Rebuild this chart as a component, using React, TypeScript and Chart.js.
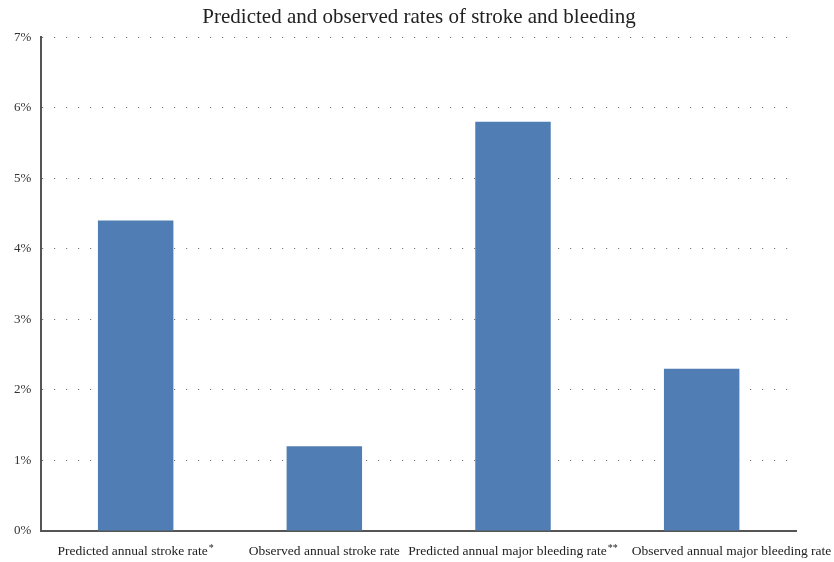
import React, { useEffect, useRef } from "react";
import { Chart, registerables } from "chart.js";

Chart.register(...registerables);

const categories = [
  "Predicted annual stroke rate*",
  "Observed annual stroke rate",
  "Predicted annual major bleeding rate**",
  "Observed annual major bleeding rate",
];
const rates = [4.4, 1.2, 5.8, 2.3];
const yTicks = [0, 1, 2, 3, 4, 5, 6, 7];
const titleText = "Predicted and observed rates of stroke and bleeding";

const FONT = "'Liberation Serif', 'DejaVu Serif', serif";

const xLabelPlugin = {
  id: "xLabels",
  afterDraw(chart: any) {
    const xs = chart.scales.x;
    const ctx = chart.ctx;
    ctx.save();
    ctx.fillStyle = "#222";
    ctx.textBaseline = "alphabetic";
    ctx.textAlign = "left";
    const baseY = xs.top + 24;
    let prevRight = -Infinity;
    categories.forEach((label, i) => {
      const m = label.match(/^(.*?)(\*+)$/);
      const base = m ? m[1] : label;
      const sup = m ? m[2] : "";
      ctx.font = `13.5px ${FONT}`;
      const wBase = ctx.measureText(base).width;
      ctx.font = `10px ${FONT}`;
      const wSup = sup ? ctx.measureText(sup).width + 1 : 0;
      const total = wBase + wSup;
      let left = xs.getPixelForTick(i) - total / 2;
      if (left < prevRight + 2) left = Math.min(prevRight + 14, chart.width - 2 - total);
      if (i === categories.length - 1 && left < prevRight + 14) left = chart.width - 2 - total;
      prevRight = left + total;
      ctx.font = `13.5px ${FONT}`;
      ctx.fillText(base, left, baseY);
      if (sup) {
        ctx.font = `10px ${FONT}`;
        ctx.fillText(sup, left + wBase + 1, baseY - 4);
      }
    });
    ctx.restore();
  },
};

export default function App() {
  const ref = useRef<HTMLCanvasElement | null>(null);
  useEffect(() => {
    if (!ref.current) return;
    const chart = new Chart(ref.current, {
      type: "bar",
      data: {
        labels: categories,
        datasets: [
          {
            data: rates,
            backgroundColor: "#507eb4",
            barPercentage: 0.4,
            categoryPercentage: 1,
            yAxisID: "y",
          },
        ],
      },
      plugins: [xLabelPlugin],
      options: {
        animation: false,
        responsive: false,
        maintainAspectRatio: false,
        layout: { padding: { left: 4, right: 0, top: 0, bottom: 0 } },
        plugins: {
          legend: { display: false },
          tooltip: { enabled: false },
          title: {
            display: true,
            text: titleText,
            color: "#222",
            font: { family: FONT, size: 21, weight: "normal" },
            padding: { top: 5, bottom: 7 },
          },
        },
        scales: {
          x: {
            grid: { display: false, drawTicks: false },
            border: { display: true, color: "#555", width: 2 },
            ticks: { display: false },
            afterFit: (s: any) => {
              s.height = 31;
            },
          },
          y: {
            min: 0,
            max: 7,
            afterBuildTicks: (axis: any) => {
              axis.ticks = yTicks.map((v) => ({ value: v }));
            },
            grid: {
              color: (ctx: any) => (ctx.tick && ctx.tick.value === 0 ? "rgba(0,0,0,0)" : "#777"),
              lineWidth: 1,
              drawTicks: false,
            },
            border: { display: true, color: "#555", width: 2, dash: [1.2, 10.8] },
            ticks: {
              color: "#333",
              font: { family: FONT, size: 13 },
              padding: 10,
              callback: (v: any) => v + "%",
            },
          },
          y2: {
            position: "right",
            min: 0,
            max: 7,
            display: true,
            grid: { display: false, drawTicks: false },
            border: { display: false },
            ticks: { display: false },
            afterFit: (s: any) => {
              s.width = 38;
            },
          },
        },
      },
    });
    return () => chart.destroy();
  }, []);
  return (
    <div style={{ position: "fixed", left: 0, top: 0, width: 834, height: 562, background: "#fff" }}>
      <canvas ref={ref} width={834} height={562} />
    </div>
  );
}
